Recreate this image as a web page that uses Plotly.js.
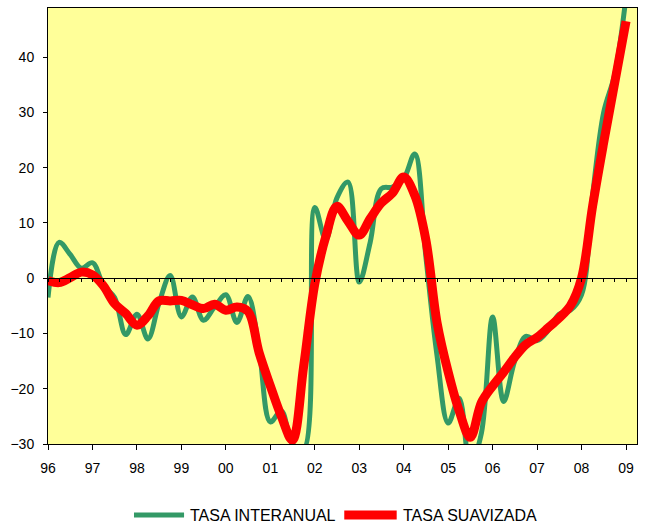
<!DOCTYPE html>
<html>
<head>
<meta charset="utf-8">
<script src="https://cdn.plot.ly/plotly-3.0.1.min.js"></script>
<style>html,body{margin:0;padding:0;background:#fff;}#chart{width:652px;height:531px;}</style>
</head>
<body>
<div id="chart"></div>
<script>
// Quarterly periods
var quarters = [
 '1996-01-01','1996-04-01','1996-07-01','1996-10-01',
 '1997-01-01','1997-04-01','1997-07-01','1997-10-01',
 '1998-01-01','1998-04-01','1998-07-01','1998-10-01',
 '1999-01-01','1999-04-01','1999-07-01','1999-10-01',
 '2000-01-01','2000-04-01','2000-07-01','2000-10-01',
 '2001-01-01','2001-04-01','2001-07-01','2001-10-01',
 '2002-01-01','2002-04-01','2002-07-01','2002-10-01',
 '2003-01-01','2003-04-01','2003-07-01','2003-10-01',
 '2004-01-01','2004-04-01','2004-07-01','2004-10-01',
 '2005-01-01','2005-04-01','2005-07-01','2005-10-01',
 '2006-01-01','2006-04-01','2006-07-01','2006-10-01',
 '2007-01-01','2007-04-01','2007-07-01','2007-10-01',
 '2008-01-01','2008-04-01','2008-07-01','2008-10-01',
 '2009-01-01'
];
// TASA INTERANUAL
var tasaInteranual = [
 -3.5, 6.5, 4.3, 1.8,
 2.8, -1.3, -3.5, -10.2,
 -6.5, -11, -4.5, 0.5,
 -7, -3.4, -7.6, -5.2,
 -3, -8, -3.3, -13,
 -26, -24, -30, -31,
 12.8, 7, 14.5, 17.4,
 -0.7, 6.5, 16.2, 16.5,
 18, 22.5, 4, -14,
 -26.2, -21.7, -34, -28,
 -7, -22.3, -15, -10.5,
 -11.3, -9.5, -6.5, -5.8,
 -3, 15, 30, 37,
 51
];
// TASA SUAVIZADA
var tasaSuavizada = [
 -0.4, -0.8, 0.1, 1.1,
 0.6, -1.4, -4.6, -6.4,
 -8.5, -6.8, -4.1, -4.1,
 -4, -4.8, -5.5, -4.7,
 -5.8, -5.2, -6, -13.5,
 -19.5, -25, -29.3, -16,
 -1, 7.5, 13, 10.3,
 7.8, 10.8, 13.6, 15.4,
 18.3, 15, 7, -8,
 -17, -24, -28.8, -22.5,
 -19.5, -17, -14.3, -12,
 -10.7, -9, -7.2, -5,
 0, 13, 24.5, 35.5,
 46.5
];
var seriesNames = ['TASA INTERANUAL', 'TASA SUAVIZADA'];
var yTickVals = [-30, -20, -10, 0, 10, 20, 30, 40];

var xRange = ['1996-01-01', '2009-04-01'];
var yRange = [-30, 48.9];
var green = '#339966', red = '#FF0000';

var traces = [
  {x: quarters, y: tasaInteranual, type: 'scatter', mode: 'lines', name: seriesNames[0],
   line: {color: green, width: 5, shape: 'spline', smoothing: 1}, hoverinfo: 'skip'},
  {x: quarters, y: tasaSuavizada, type: 'scatter', mode: 'lines', name: seriesNames[1],
   line: {color: red, width: 9, shape: 'spline', smoothing: 1}, hoverinfo: 'skip'},
  {x: [null], y: [null], xaxis: 'x2', yaxis: 'y', type: 'scatter', mode: 'lines', showlegend: false, hoverinfo: 'skip'}
];

var zeroFrac = (0 - yRange[0]) / (yRange[1] - yRange[0]);

// legend drawn in paper coordinates (below the plot)
var legY = -0.163;
var shapes = [
  {type: 'line', xref: 'paper', yref: 'paper', x0: 0.146, x1: 0.231, y0: legY, y1: legY,
   line: {color: green, width: 5}},
  {type: 'line', xref: 'paper', yref: 'paper', x0: 0.503, x1: 0.592, y0: legY, y1: legY,
   line: {color: red, width: 9}}
];
var annotations = [
  {xref: 'paper', yref: 'paper', x: 0.2377, y: legY, xanchor: 'left', yanchor: 'middle',
   text: seriesNames[0], showarrow: false, font: {size: 16, color: '#000'}},
  {xref: 'paper', yref: 'paper', x: 0.5993, y: legY, xanchor: 'left', yanchor: 'middle',
   text: seriesNames[1], showarrow: false, font: {size: 16, color: '#000'}}
];

var layout = {
  width: 652, height: 531,
  margin: {l: 48, r: 15, t: 8, b: 87, autoexpand: false},
  paper_bgcolor: '#ffffff',
  plot_bgcolor: '#FFFF99',
  font: {family: 'Liberation Sans, Arial, sans-serif', color: '#000', size: 14},
  showlegend: false,
  shapes: shapes,
  annotations: annotations,
  xaxis: {type: 'date', range: xRange, dtick: 'M12', tick0: '1996-01-01', tickformat: '%y',
          ticks: 'outside', ticklen: 5, tickcolor: '#000', showgrid: false, zeroline: false,
          showline: true, linecolor: '#000', linewidth: 1, mirror: true,
          ticklabelstandoff: 6, tickfont: {size: 14}},
  xaxis2: {type: 'date', range: xRange, overlaying: 'x', anchor: 'free', position: zeroFrac,
           dtick: 'M3', tick0: '1996-01-01', ticks: 'outside', ticklen: 3, tickcolor: '#000',
           showticklabels: false, showgrid: false, zeroline: false,
           showline: true, linecolor: '#000', linewidth: 1},
  yaxis: {range: yRange, tickvals: yTickVals, ticks: 'outside', ticklen: 4, tickcolor: '#000',
          showgrid: false, zeroline: false, showline: true, linecolor: '#000', linewidth: 1,
          mirror: true, ticklabelstandoff: 6, tickfont: {size: 14}}
};

Plotly.newPlot('chart', traces, layout, {displayModeBar: false, staticPlot: true});
</script>
</body>
</html>
